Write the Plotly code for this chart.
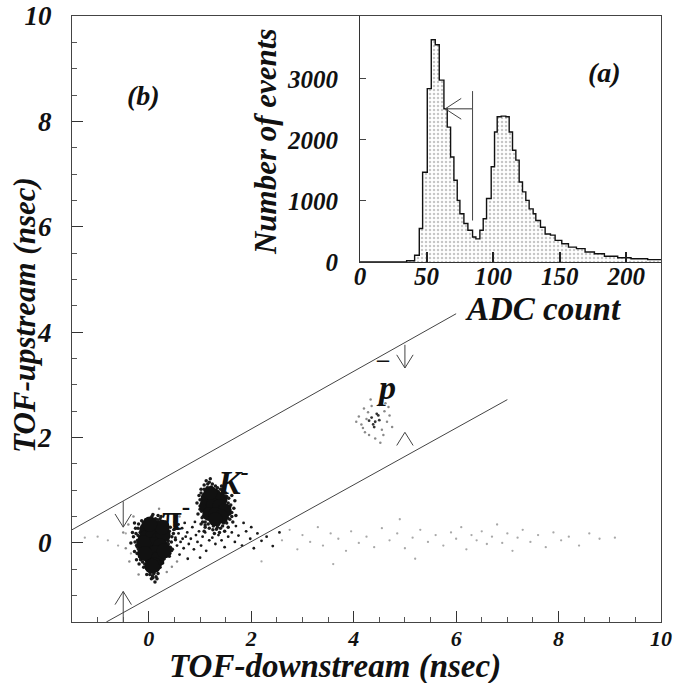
import plotly.graph_objects as go

# ---------------- data ----------------
# Inset (a): ADC histogram, step left edges and counts
adc_edges = [0, 35, 41, 44.5, 47, 50.5, 53.5, 56.5, 59.5, 63, 65.5, 68, 70.5, 73, 75, 78, 81,
             84.5, 87, 90, 92.5, 95, 98.5, 101, 103, 106, 109.5, 112, 114.5, 117, 119.5,
             122, 124.5, 127, 130, 132, 135.5, 139, 143, 146.5, 151.5, 156.5, 162.5, 169,
             176, 183.5, 193.5, 203.5, 216, 226]
adc_counts = [0, 20, 110, 550, 1470, 2840, 3640, 3560, 2980, 2510, 2210, 1720, 1340, 1010, 790,
              630, 520, 410, 380, 520, 710, 1040, 1560, 2130, 2380, 2390, 2380, 2130, 1830,
              1670, 1310, 1150, 1010, 870, 790, 680, 570, 460, 440, 355, 300, 245, 220, 165,
              135, 95, 70, 55, 40]
adc_ticks = [0, 50, 100, 150, 200]
count_ticks = [0, 1000, 2000, 3000]
adc_cut = 84.5            # ADC cut position
adc_cut_top = 2800
adc_cut_bottom = 680
adc_arrow_y = 2510
adc_arrow_tip = 64

# Main plot (b): TOF scatter
pi_core = [(-0.04, 0.25), (0.08, 0.30), (0.20, 0.22), (-0.05, 0.10), (0.07, 0.12), (0.20, 0.08),
           (0.28, 0.15), (-0.02, -0.04), (0.10, -0.03), (0.22, -0.06), (0.02, -0.18), (0.14, -0.18),
           (0.06, -0.30), (0.16, -0.32), (0.10, -0.42), (-0.10, 0.00), (0.30, -0.15), (0.26, 0.30),
           (0.02, 0.36), (-0.08, -0.20), (0.06, -0.44)]
pi_halo = [(-0.30, 0.12), (-0.26, 0.28), (-0.24, -0.05), (-0.28, -0.16), (-0.20, 0.36), (-0.18, -0.26),
           (-0.22, 0.05), (-0.14, 0.42), (-0.12, -0.36), (-0.17, 0.20), (-0.10, -0.46), (-0.06, 0.44),
           (-0.03, -0.50), (0.00, 0.46), (0.03, -0.55), (0.06, 0.50), (0.10, -0.58), (0.13, 0.46),
           (0.16, -0.52), (0.19, 0.40), (0.22, -0.46), (0.26, 0.36), (0.30, 0.28), (0.30, -0.30),
           (0.34, 0.16), (0.36, -0.18), (0.38, 0.04), (0.40, 0.22), (0.42, -0.08), (0.45, 0.12),
           (-0.24, -0.32), (-0.19, -0.40), (-0.13, 0.32), (0.33, 0.40), (0.36, 0.00), (0.27, -0.38),
           (0.22, 0.46), (0.14, -0.64), (0.08, 0.54), (0.02, -0.46), (-0.04, -0.60), (-0.09, 0.30),
           (0.18, 0.52), (0.28, 0.10), (0.40, -0.25), (0.44, 0.02), (0.48, 0.18), (0.52, 0.06),
           (-0.35, 0.00), (-0.32, 0.20), (0.05, -0.68), (0.11, -0.48), (0.20, -0.38), (0.30, -0.10),
           (-0.07, 0.32), (-0.15, -0.10), (0.34, 0.30), (0.41, -0.20), (0.00, -0.34), (0.09, 0.38),
           (-0.21, 0.14), (-0.16, 0.02), (0.25, -0.20), (0.32, -0.04), (0.12, -0.74), (0.07, -0.62),
           (-0.27, 0.02), (-0.25, 0.18), (-0.23, -0.20), (-0.21, 0.28), (-0.20, -0.12), (-0.18, 0.10),
           (-0.16, -0.32), (-0.14, 0.24), (-0.12, -0.22), (-0.11, 0.38), (-0.08, -0.40), (-0.05, 0.40),
           (-0.02, -0.42), (0.02, 0.42), (0.05, -0.52), (0.10, 0.44), (0.14, -0.45), (0.17, 0.44),
           (0.21, -0.42), (0.24, 0.40), (0.26, -0.30), (0.29, 0.32), (0.32, -0.22), (0.33, 0.22),
           (0.35, -0.10), (0.37, 0.10), (0.38, -0.02), (0.30, 0.20), (0.27, -0.10), (-0.22, -0.08),
           (0.18, -0.58), (0.02, -0.60), (0.24, 0.50), (0.42, 0.30), (0.46, -0.12), (0.50, 0.26),
           (0.36, 0.34), (-0.28, 0.38), (0.08, -0.66), (0.16, -0.68)]
pi_gray = [(-0.50, 0.20), (-0.45, -0.10), (-0.40, 0.35), (-0.38, -0.35), (0.55, -0.35), (0.50, 0.40),
           (0.35, -0.55), (-0.20, -0.60), (0.60, 0.50), (0.20, 0.65), (-0.30, 0.50), (0.45, -0.45)]
k_core = [(1.15, 0.85), (1.28, 0.90), (1.40, 0.82), (1.12, 0.70), (1.25, 0.72), (1.38, 0.70),
          (1.48, 0.62), (1.18, 0.55), (1.30, 0.55), (1.42, 0.50), (1.30, 0.45), (1.20, 0.95)]
k_halo = [(0.98, 0.90), (1.00, 0.70), (0.96, 0.55), (1.02, 1.02), (1.05, 0.40), (1.08, 1.10),
          (1.10, 0.30), (1.15, 1.12), (1.18, 0.28), (1.22, 1.06), (1.25, 0.25), (1.30, 1.08),
          (1.34, 0.30), (1.40, 1.02), (1.44, 0.32), (1.50, 0.95), (1.52, 0.38), (1.56, 0.85),
          (1.58, 0.45), (1.60, 0.72), (1.62, 0.58), (1.55, 0.30), (1.48, 0.22), (1.00, 0.82),
          (1.06, 0.62), (1.04, 0.48), (1.12, 1.18), (1.20, 1.22), (0.94, 0.76), (1.62, 0.90),
          (1.66, 0.66), (1.64, 0.40), (1.38, 0.20), (1.28, 0.18), (1.08, 0.22), (1.70, 0.52),
          (1.12, 0.95), (1.52, 0.70), (1.58, 0.55), (1.46, 0.85), (1.02, 0.36), (1.68, 0.80),
          (1.02, 0.95), (1.04, 0.78), (1.03, 0.60), (1.06, 0.50), (1.08, 1.02), (1.10, 0.40),
          (1.14, 1.05), (1.16, 0.36), (1.24, 1.12), (1.26, 0.32), (1.34, 1.05), (1.36, 0.35),
          (1.44, 0.98), (1.46, 0.38), (1.52, 0.88), (1.54, 0.48), (1.56, 0.62), (1.55, 0.76),
          (1.50, 0.42), (1.06, 0.86), (1.00, 0.64), (1.58, 0.68), (1.18, 1.15), (1.42, 1.08),
          (1.62, 0.50), (1.10, 0.34), (1.32, 0.26), (1.40, 0.28)]
bridge = [(0.48, 0.25), (0.52, 0.10), (0.55, -0.05), (0.58, 0.18), (0.62, 0.02), (0.65, 0.28),
          (0.68, -0.10), (0.72, 0.12), (0.75, 0.20), (0.78, -0.02), (0.82, 0.08), (0.85, 0.30),
          (0.88, -0.12), (0.92, 0.15), (0.95, 0.02), (0.98, 0.22), (1.02, -0.05), (1.05, 0.12),
          (1.10, 0.20), (1.12, -0.15), (1.18, 0.05), (1.24, 0.10), (1.30, -0.02), (1.36, 0.15),
          (1.42, 0.05), (1.48, -0.08), (1.55, 0.12), (1.62, 0.20), (1.68, 0.02), (1.75, 0.14),
          (1.82, -0.05), (1.90, 0.22), (1.98, 0.08), (2.05, -0.10), (2.12, 0.18), (2.20, 0.04),
          (2.30, 0.12), (2.42, -0.06), (2.55, 0.20), (0.60, -0.22), (0.70, 0.38), (0.90, 0.40),
          (1.00, -0.28), (0.58, 0.35), (0.76, -0.30), (1.70, 0.32), (1.85, 0.38), (2.00, 0.30),
          (0.45, -0.15), (0.66, 0.08)]
background = [(-1.25, 0.10), (-1.00, 0.12), (-0.80, 0.05), (-0.60, -0.05), (-0.45, 0.18), (-0.35, -0.20),
              (2.60, 0.05), (2.75, 0.25), (2.90, -0.12), (3.00, 0.15), (3.15, 0.02), (3.30, 0.30),
              (3.40, -0.05), (3.55, 0.18), (3.70, 0.08), (3.85, -0.15), (3.95, 0.22), (4.10, 0.00),
              (4.25, 0.12), (4.40, -0.08), (4.55, 0.28), (4.70, 0.05), (4.85, 0.18), (5.00, -0.10),
              (5.15, 0.10), (5.30, 0.25), (5.45, 0.02), (5.60, 0.15), (5.75, -0.05), (5.90, 0.20),
              (6.00, 0.08), (6.10, 0.30), (6.20, -0.12), (6.30, 0.15), (6.40, 0.05), (6.50, 0.22),
              (6.60, -0.02), (6.70, 0.12), (6.80, 0.35), (6.90, 0.00), (7.00, 0.18), (7.10, -0.15),
              (7.20, 0.10), (7.30, 0.25), (7.45, 0.02), (7.60, 0.15), (7.75, -0.08), (7.90, 0.20),
              (8.05, 0.05), (8.20, 0.12), (8.40, -0.05), (8.60, 0.18), (8.80, 0.08), (9.10, 0.10),
              (2.20, -0.35), (3.60, -0.40), (5.20, -0.30), (4.90, 0.45)]
pbar_dark = [(4.35, 2.38), (4.42, 2.30), (4.48, 2.42), (4.38, 2.25), (4.50, 2.33), (4.30, 2.32),
             (4.45, 2.45), (4.40, 2.20)]
pbar_gray = [(4.10, 2.40), (4.15, 2.25), (4.20, 2.55), (4.22, 2.10), (4.28, 2.48), (4.30, 2.05),
             (4.35, 2.60), (4.42, 1.98), (4.50, 2.62), (4.55, 2.15), (4.60, 2.50), (4.65, 2.30),
             (4.70, 2.42), (4.58, 2.05), (4.25, 2.35), (4.62, 2.65), (4.05, 2.30), (4.75, 2.20),
             (4.33, 2.72), (4.52, 1.90), (4.68, 2.58), (4.18, 2.18)]

# Cut lines and arrows (TOF plot)
upper_cut_x = [-1.5, 6.0]
upper_cut_y = [0.25, 4.35]
lower_cut_x = [-0.83, 7.0]
lower_cut_y = [-1.5, 2.72]
# arrows: (x, y_start, y_tip); start == tip means head only (pointing up)
cut_arrows = [(-0.5, 0.79, 0.30), (-0.5, -1.5, -0.92), (5.0, 3.76, 3.32), (5.0, 2.10, 2.10)]

FONT = "Liberation Serif"
INK = "#1a1a1a"

fig = go.Figure()


def pts(lst):
    return [p[0] for p in lst], [p[1] for p in lst]


def add_points(lst, size, color, xa="x", ya="y"):
    xs, ys = pts(lst)
    fig.add_trace(go.Scatter(x=xs, y=ys, mode="markers", xaxis=xa, yaxis=ya,
                             marker=dict(size=size, color=color, line=dict(width=0)),
                             hoverinfo="skip"))


def add_line(xs, ys, color="#333", width=1, xa="x", ya="y", dash=None):
    fig.add_trace(go.Scatter(x=xs, y=ys, mode="lines", xaxis=xa, yaxis=ya,
                             line=dict(color=color, width=width, dash=dash), hoverinfo="skip"))


# --- main TOF scatter ---
add_points(background, 2.3, "#a8a8a8")
add_points(pi_gray, 2.5, "#8a8a8a")
add_points(pbar_gray, 2.5, "#8a8a8a")
add_points(bridge, 2.8, INK)
add_points(pi_halo, 3.5, INK)
add_points(k_halo, 3.5, INK)
add_points(pbar_dark, 2.8, "#333")
add_points(pi_core, 15, "#111")
add_points(k_core, 14, "#111")

add_line(upper_cut_x, upper_cut_y, "#444", 1)
add_line(lower_cut_x, lower_cut_y, "#444", 1)

hw, hl = 0.16, 0.25
for (ax_, y0, tip) in cut_arrows:
    d = 1 if tip < y0 else -1
    if y0 != tip:
        add_line([ax_, ax_], [y0, tip], "#444", 1)
    add_line([ax_ - hw, ax_, ax_ + hw], [tip + d * hl, tip, tip + d * hl], "#444", 1)

# --- inset histogram ---
hist_x = adc_edges
hist_y = adc_counts + [adc_counts[-1]]
fig.add_trace(go.Scatter(x=hist_x, y=hist_y, mode="lines", xaxis="x2", yaxis="y2",
                         line=dict(shape="hv", color="#111", width=1.4),
                         fill="tozeroy",
                         fillpattern=dict(shape=".", fgcolor="#8c8c8c", bgcolor="#ffffff",
                                          size=4, solidity=0.3),
                         hoverinfo="skip"))
add_line([adc_cut, adc_cut], [adc_cut_top, adc_cut_bottom], "#444", 1, "x2", "y2")
add_line([adc_cut, adc_arrow_tip], [adc_arrow_y, adc_arrow_y], "#555", 1.2, "x2", "y2")
add_line([adc_arrow_tip + 12, adc_arrow_tip, adc_arrow_tip + 12],
         [adc_arrow_y + 170, adc_arrow_y, adc_arrow_y - 170], "#444", 1, "x2", "y2")

tickfont_y = dict(family=FONT, size=27, color="#111", weight="bold", style="italic")
tickfont_x = dict(family=FONT, size=22, color="#111", weight="bold", style="italic")
tickfont_in = dict(family=FONT, size=25, color="#111", weight="bold", style="italic")

fig.update_layout(
    width=677, height=683,
    margin=dict(l=72, r=16, t=16, b=61),
    paper_bgcolor="white", plot_bgcolor="white",
    showlegend=False,
    font=dict(family=FONT, color="#111"),
    xaxis=dict(range=[-1.5, 10], showline=True, linecolor="#444", linewidth=1, mirror=True,
               ticks="inside", ticklen=11, tickwidth=1, tickcolor="#333", automargin=False,
               tick0=0, dtick=2, showgrid=False, zeroline=False, tickfont=tickfont_x,
               ticklabelstandoff=-3,
               minor=dict(ticks="inside", ticklen=5, tickcolor="#555", dtick=0.5, tick0=0,
                          showgrid=False)),
    yaxis=dict(range=[-1.5, 10], showline=True, linecolor="#444", linewidth=1, mirror=True,
               ticks="inside", ticklen=11, tickwidth=1, tickcolor="#333", automargin=False,
               tick0=0, dtick=2, showgrid=False, zeroline=False, tickfont=tickfont_y,
               ticklabelstandoff=14,
               minor=dict(ticks="inside", ticklen=5, tickcolor="#555", dtick=0.5, tick0=0,
                          showgrid=False)),
    xaxis2=dict(domain=[0.489, 1.0], anchor="y2", range=[0, 226], showline=True,
                linecolor="#333", linewidth=1, ticks="inside", ticklen=10, tickwidth=2,
                tickcolor="#222", tickmode="array", tickvals=adc_ticks, automargin=False,
                showgrid=False, zeroline=False, tickfont=tickfont_in, ticklabelstandoff=-8),
    yaxis2=dict(domain=[0.594, 1.0], anchor="x2", range=[0, 4030], showline=True,
                linecolor="#333", linewidth=1, ticks="inside", ticklen=6, tickwidth=1,
                tickcolor="#444", tickmode="array", tickvals=count_ticks, automargin=False,
                showgrid=False, zeroline=False, tickfont=tickfont_in, ticklabelstandoff=16),
)

ann_font = dict(family=FONT, color="#111", weight="bold", style="italic")


def ann(text, x, y, size, xref="paper", yref="paper", angle=0, xanchor="center",
        yanchor="middle", italic=True):
    f = dict(ann_font, size=size)
    if not italic:
        f["style"] = "normal"
    return dict(text=text, xref=xref, yref=yref, x=x, y=y, textangle=angle,
                xanchor=xanchor, yanchor=yanchor, showarrow=False, font=f)


annotations = [
    ann("TOF-downstream (nsec)", 0.4465, -0.0735, 33),
    ann("TOF-upstream (nsec)", -0.0815, 0.5066, 31, angle=-90),
    ann("Number of events", 0.3277, 0.792, 31, angle=-90),
    ann("ADC count", 0.7997, 0.5165, 33),
    ann("(a)", 183.5, 3100, 28, xref="x2", yref="y2"),
    ann("(b)", -0.1, 8.5, 28, xref="x", yref="y"),
    ann("π<sup>-</sup>", 0.22, 0.52, 36, xref="x", yref="y", xanchor="left", italic=False),
    ann("K<sup>-</sup>", 1.30, 1.2, 34, xref="x", yref="y", xanchor="left"),
    ann("p", 4.64, 2.95, 34, xref="x", yref="y"),
    ann("–", 4.57, 3.5, 24, xref="x", yref="y", italic=False),
]
fig.update_layout(annotations=annotations)

fig.write_html("out.html")
